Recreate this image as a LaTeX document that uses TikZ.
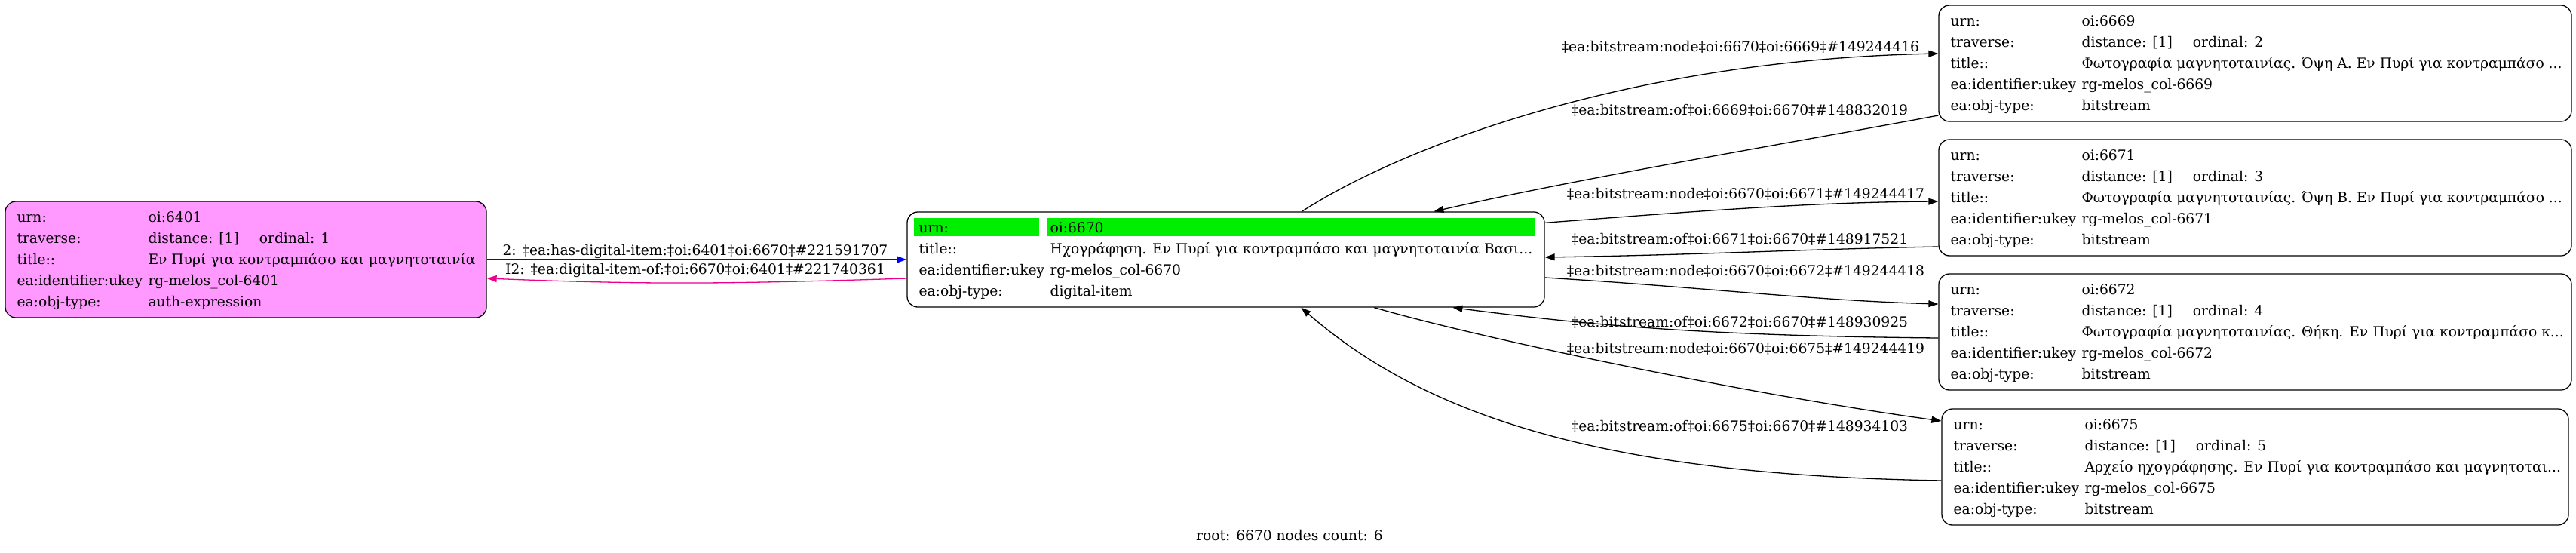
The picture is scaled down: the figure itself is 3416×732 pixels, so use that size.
\documentclass[tikz,border=0pt]{standalone}
\usepackage{fontspec}
\setmainfont{DejaVu Serif}
\usetikzlibrary{arrows.meta,calc}
\definecolor{pinkfill}{RGB}{255,153,255}
\definecolor{hlgreen}{RGB}{0,238,0}
\newcommand\rowpair[5]{%
  \node[txt] (#1-#2k) at ($(#1.west)+(16,#3)$) {#4};
  \node[txt] (#1-#2v) at ($(#1.west)+(190,#3)$) {#5};}
\begin{document}
\begin{tikzpicture}[x=1pt,y=-1pt,
  font=\fontsize{18.67}{22}\selectfont,
  box/.style={draw, line width=1.3pt, rounded corners=14pt, inner sep=0pt},
  txt/.style={anchor=base west, inner sep=0pt},
  edge/.style={line width=1.3pt, -{Triangle[length=13pt,width=9pt]}},
  elab/.style={inner sep=0pt, anchor=center}]
\useasboundingbox (0,0) rectangle (3416,732);

% boxes
\node[box, fill=pinkfill, minimum width=638pt, minimum height=154pt] (n6401) at (326,344) {};
\node[box, minimum width=845pt, minimum height=126pt] (n6670) at (1625.5,344) {};
\node[box, minimum width=839pt, minimum height=154pt] (n6669) at (2990.5,84) {};
\node[box, minimum width=839pt, minimum height=154pt] (n6671) at (2990.5,262) {};
\node[box, minimum width=839pt, minimum height=154pt] (n6672) at (2990.5,440) {};
\node[box, minimum width=831pt, minimum height=154pt] (n6675) at (2990.5,619) {};

% green highlight of root urn row
\fill[hlgreen] ($(n6670.north west)+(10,9)$) rectangle ($(n6670.north west)+(176,33)$);
\fill[hlgreen] ($(n6670.north west)+(186,9)$) rectangle ($(n6670.north east)+(-13,33)$);

% left node
\rowpair{n6401}{a}{-50}{urn:}{oi:6401}
\rowpair{n6401}{b}{-22}{traverse:}{distance: [1]\hspace{27pt}ordinal: 1}
\rowpair{n6401}{c}{6}{title::}{Εν Πυρί για κοντραμπάσο και μαγνητοταινία}
\rowpair{n6401}{d}{34}{ea:identifier:ukey}{rg-melos\_col-6401}
\rowpair{n6401}{e}{62}{ea:obj-type:}{auth-expression}

% center node
\rowpair{n6670}{a}{-36}{urn:}{oi:6670}
\rowpair{n6670}{b}{-8}{title::}{Ηχογράφηση. Εν Πυρί για κοντραμπάσο και μαγνητοταινία Βασι...}
\rowpair{n6670}{c}{20}{ea:identifier:ukey}{rg-melos\_col-6670}
\rowpair{n6670}{d}{48}{ea:obj-type:}{digital-item}

% right nodes
\rowpair{n6669}{a}{-50}{urn:}{oi:6669}
\rowpair{n6669}{b}{-22}{traverse:}{distance: [1]\hspace{27pt}ordinal: 2}
\rowpair{n6669}{c}{6}{title::}{Φωτογραφία μαγνητοταινίας. Όψη Α. Εν Πυρί για κοντραμπάσο ...}
\rowpair{n6669}{d}{34}{ea:identifier:ukey}{rg-melos\_col-6669}
\rowpair{n6669}{e}{62}{ea:obj-type:}{bitstream}

\rowpair{n6671}{a}{-50}{urn:}{oi:6671}
\rowpair{n6671}{b}{-22}{traverse:}{distance: [1]\hspace{27pt}ordinal: 3}
\rowpair{n6671}{c}{6}{title::}{Φωτογραφία μαγνητοταινίας. Όψη Β. Εν Πυρί για κοντραμπάσο ...}
\rowpair{n6671}{d}{34}{ea:identifier:ukey}{rg-melos\_col-6671}
\rowpair{n6671}{e}{62}{ea:obj-type:}{bitstream}

\rowpair{n6672}{a}{-50}{urn:}{oi:6672}
\rowpair{n6672}{b}{-22}{traverse:}{distance: [1]\hspace{27pt}ordinal: 4}
\rowpair{n6672}{c}{6}{title::}{Φωτογραφία μαγνητοταινίας. Θήκη. Εν Πυρί για κοντραμπάσο κ...}
\rowpair{n6672}{d}{34}{ea:identifier:ukey}{rg-melos\_col-6672}
\rowpair{n6672}{e}{62}{ea:obj-type:}{bitstream}

\rowpair{n6675}{a}{-50}{urn:}{oi:6675}
\rowpair{n6675}{b}{-22}{traverse:}{distance: [1]\hspace{27pt}ordinal: 5}
\rowpair{n6675}{c}{6}{title::}{Αρχείο ηχογράφησης. Εν Πυρί για κοντραμπάσο και μαγνητοται...}
\rowpair{n6675}{d}{34}{ea:identifier:ukey}{rg-melos\_col-6675}
\rowpair{n6675}{e}{62}{ea:obj-type:}{bitstream}

% edges left
\draw[edge, blue] (n6401.east) -- (n6670.west);
\draw[edge, magenta] ($(n6670.west)+(0,25)$) .. controls (950,377) and (850,377) .. ($(n6401.east)+(0,25)$);
\node[elab] (l1) at (922,333) {2: ‡ea:has-digital-item:‡oi:6401‡oi:6670‡\#221591707};
\node[elab] (l2) at (922,358) {I2: ‡ea:digital-item-of:‡oi:6670‡oi:6401‡\#221740361};

% edges right
\draw[edge] ($(n6670.north west)+(524,0)$) .. controls (1850,200) and (2150,80) .. ($(n6669.west)+(0,-13)$);
\draw[edge] ($(n6669.west)+(0,69)$) .. controls (2400,185) and (2100,235) .. ($(n6670.north west)+(699,0)$);
\draw[edge] ($(n6670.north east)+(0,15)$) .. controls (2250,280) and (2400,268) .. ($(n6671.west)+(0,5)$);
\draw[edge] ($(n6671.west)+(0,65)$) .. controls (2400,330) and (2250,338) .. ($(n6670.east)+(0,-3)$);
\draw[edge] ($(n6670.east)+(0,24)$) .. controls (2250,380) and (2400,398) .. ($(n6672.west)+(0,-37)$);
\draw[edge] ($(n6672.west)+(0,8)$) .. controls (2250,445) and (2100,430) .. ($(n6670.south west)+(724,0)$);
\draw[edge] ($(n6670.south west)+(620,0)$) .. controls (1950,445) and (2300,520) .. ($(n6675.west)+(0,-61)$);
\draw[edge] ($(n6675.west)+(0,18)$) .. controls (2150,630) and (1900,560) .. ($(n6670.south west)+(523,0)$);

\node[elab] (l3) at (2308,62) {‡ea:bitstream:node‡oi:6670‡oi:6669‡\#149244416};
\node[elab] (l4) at (2307,146) {‡ea:bitstream:of‡oi:6669‡oi:6670‡\#148832019};
\node[elab] (l5) at (2315,257) {‡ea:bitstream:node‡oi:6670‡oi:6671‡\#149244417};
\node[elab] (l6) at (2307,317) {‡ea:bitstream:of‡oi:6671‡oi:6670‡\#148917521};
\node[elab] (l7) at (2315,359) {‡ea:bitstream:node‡oi:6670‡oi:6672‡\#149244418};
\node[elab] (l8) at (2307,427) {‡ea:bitstream:of‡oi:6672‡oi:6670‡\#148930925};
\node[elab] (l9) at (2315,462) {‡ea:bitstream:node‡oi:6670‡oi:6675‡\#149244419};
\node[elab] (l10) at (2307,565) {‡ea:bitstream:of‡oi:6675‡oi:6670‡\#148934103};

\node[elab] (caption) at (1710,710) {root: 6670 nodes count: 6};
\end{tikzpicture}
\end{document}
